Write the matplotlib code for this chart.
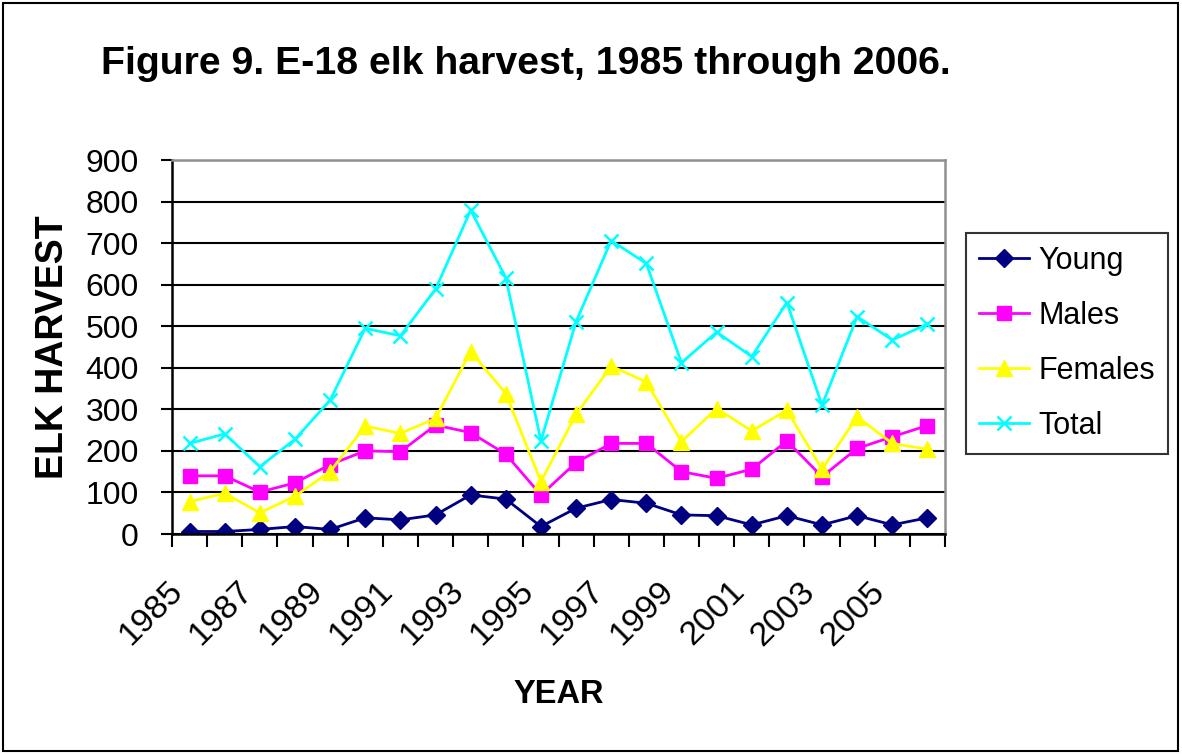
import matplotlib
matplotlib.use("Agg")
import matplotlib.pyplot as plt
import matplotlib.transforms as mtransforms
from matplotlib.patches import Rectangle
from matplotlib.ticker import FixedLocator, MultipleLocator

plt.rcParams['font.family'] = ['Liberation Sans', 'DejaVu Sans']

years = list(range(1985, 2007))
young = [6, 6, 11, 18, 11, 39, 34, 46, 94, 84, 18, 62, 83, 74, 46, 44, 22, 44, 22, 44, 22, 39]
males = [140, 140, 101, 123, 167, 200, 198, 262, 244, 192, 94, 172, 218, 218, 150, 134, 156, 224, 138, 206, 234, 261]
females = [78, 98, 51, 91, 150, 260, 242, 278, 439, 338, 126, 288, 404, 366, 222, 302, 248, 298, 156, 282, 218, 204]
total = [218, 241, 162, 228, 322, 495, 477, 589, 779, 617, 224, 511, 706, 651, 412, 486, 427, 557, 310, 523, 467, 505]

fig = plt.figure(figsize=(11.82, 7.55), dpi=100)
ax = fig.add_axes([172 / 1182, 1 - 534 / 755, 773 / 1182, 374 / 755])

x = list(range(len(years)))
ax.plot(x, young, color='#000080', marker='D', markersize=9, linewidth=2, label='Young')
ax.plot(x, males, color='#FF00FF', marker='s', markersize=10, linewidth=2, label='Males')
ax.plot(x, females, color='#FFFF00', marker='^', markersize=12, linewidth=2, label='Females')
ax.plot(x, total, color='#00FFFF', marker='x', markersize=9.5, markeredgewidth=1.8,
        linewidth=2, label='Total')

ax.set_xlim(-0.5, len(years) - 0.5)
ax.set_ylim(0, 900)
ax.yaxis.set_major_locator(MultipleLocator(100))
ax.grid(axis='y', color='black', linewidth=1.5)
ax.set_axisbelow(True)

# category boundaries get the tick marks, centres get the labels
ax.xaxis.set_minor_locator(FixedLocator([i - 0.5 for i in range(len(years) + 1)]))
ax.set_xticks(x[::2])
ax.set_xticklabels([str(y) for y in years[::2]])
ax.tick_params(axis='x', which='major', length=0, pad=38, labelsize=24.5)
ax.tick_params(axis='x', which='minor', length=9, width=1.5, direction='out', color='black')
ax.tick_params(axis='y', length=8, width=1.5, direction='out', pad=16, labelsize=23)
offset = mtransforms.ScaledTranslation(-12 / 100, 0, fig.dpi_scale_trans)
for lab in ax.get_xticklabels():
    lab.set_rotation(45)
    lab.set_ha('right')
    lab.set_va('center')
    lab.set_rotation_mode('anchor')
    lab.set_transform(lab.get_transform() + offset)

for side in ['left', 'bottom']:
    ax.spines[side].set_color('black')
    ax.spines[side].set_linewidth(1.8)
for side in ['top', 'right']:
    ax.spines[side].set_color('#909090')
    ax.spines[side].set_linewidth(1.8)

ax.set_xlabel('YEAR', fontsize=23.5, fontweight='bold', va='center')
ax.xaxis.set_label_coords(0.5, -0.43)
ax.set_ylabel('ELK HARVEST', fontsize=27, fontweight='bold', va='center')
ax.yaxis.set_label_coords(-0.154, 0.5)

fig.text(526 / 1182, 1 - 74 / 755, 'Figure 9. E-18 elk harvest, 1985 through 2006.',
         fontsize=28.3, fontweight='bold', ha='center', va='baseline')

leg = ax.legend(loc='upper left', bbox_to_anchor=(966 / 1182, 1 - 233 / 755),
                bbox_transform=fig.transFigure, fontsize=22, frameon=True,
                fancybox=False, edgecolor='black', handlelength=1.65,
                handletextpad=0.3, labelspacing=0.82, borderpad=0.42,
                borderaxespad=0)
leg.get_frame().set_linewidth(1.5)

fig.patches.append(Rectangle((3 / 1182, 4 / 755), 1175 / 1182, 748 / 755,
                             transform=fig.transFigure, fill=False,
                             edgecolor='black', linewidth=1.5))

fig.savefig('out.png', dpi=100)
